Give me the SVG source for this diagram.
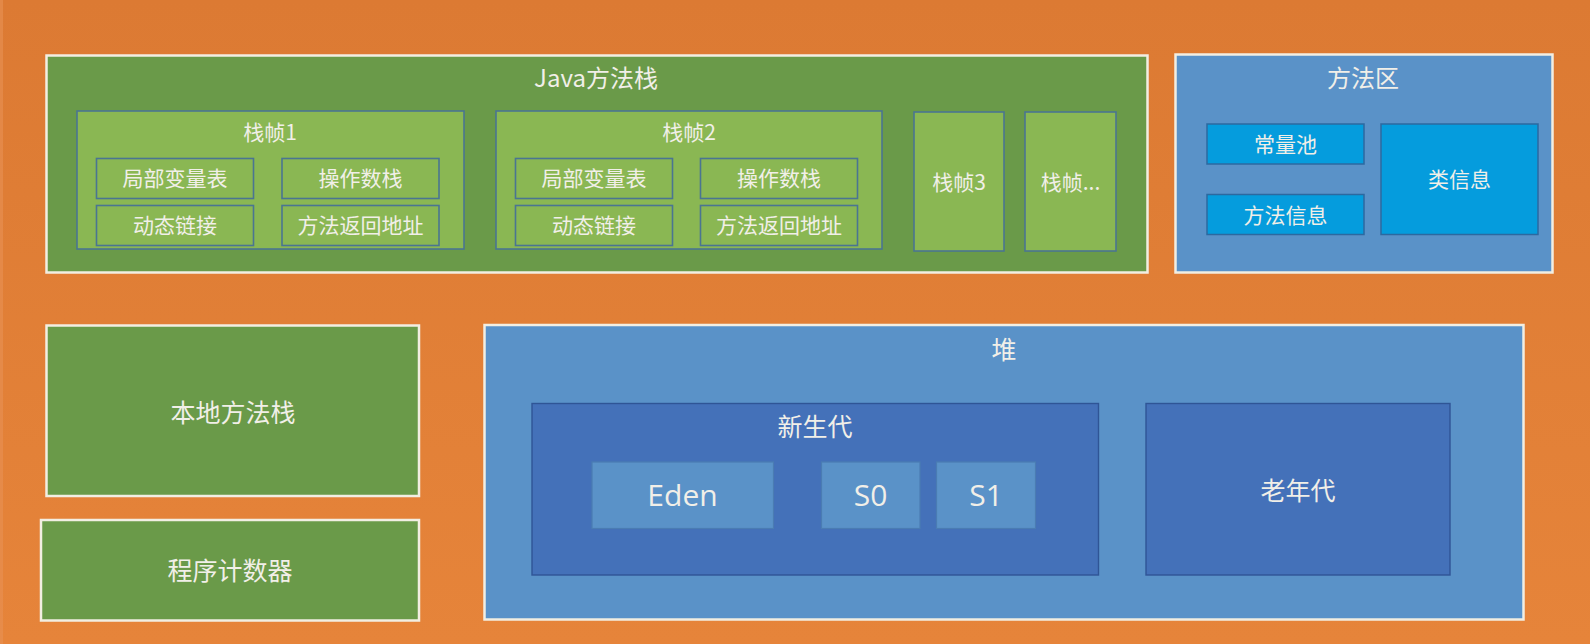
<svg xmlns="http://www.w3.org/2000/svg" width="1590" height="644" viewBox="0 0 1590 644">
  <defs>
    <linearGradient id="bg" x1="0" y1="0" x2="0" y2="1">
      <stop offset="0" stop-color="#DC7A33"/>
      <stop offset="1" stop-color="#E6843A"/>
    </linearGradient>
  </defs>
  <style>
    text { font-family: "Noto Sans CJK SC", "Open Sans", sans-serif; fill: #F1EFE8; text-anchor: middle; }
    .outer { stroke: #F2EEE2; stroke-width: 2.5; }
    .dkgreen { fill: #6A9A49; }
    .ltgreen { fill: #8AB753; stroke: #4A7592; stroke-width: 1.6; }
    .blue { fill: #5A92C8; }
    .gen { fill: #4471B9; stroke: #2F5596; stroke-width: 1.4; }
    .cell { fill: #5A92C8; stroke: #4A7CB3; stroke-width: 1.2; }
    .cyan { fill: #059CDD; stroke: #2C69A0; stroke-width: 1.5; }
    .t24 { font-size: 24px; }
    .t21 { font-size: 21px; }
    .t25 { font-size: 25px; }
    .t30 { font-size: 30px; font-family: "Open Sans", "Noto Sans CJK SC", sans-serif; }
  </style>
  <rect x="0" y="0" width="1590" height="644" fill="url(#bg)"/>
  <rect x="0" y="0" width="3" height="644" fill="#E89155" opacity="0.6"/>

  <g id="java-stack">
    <rect class="outer dkgreen" x="46.5" y="55.5" width="1101" height="217"/>
    <text class="t24" x="596" y="87">Java方法栈</text>
  </g>

  <g id="frame1">
    <rect class="ltgreen" x="77" y="111" width="387" height="138"/>
    <text class="t21" x="270" y="140">栈帧1</text>
  </g>
  <g id="frame1-locals">
    <rect class="ltgreen" x="96.5" y="158.5" width="157" height="40"/>
    <text class="t21" x="175" y="186">局部变量表</text>
  </g>
  <g id="frame1-operand">
    <rect class="ltgreen" x="282" y="158.5" width="157" height="40"/>
    <text class="t21" x="360.5" y="186">操作数栈</text>
  </g>
  <g id="frame1-dynlink">
    <rect class="ltgreen" x="96.5" y="205.5" width="157" height="40"/>
    <text class="t21" x="175" y="233">动态链接</text>
  </g>
  <g id="frame1-return">
    <rect class="ltgreen" x="282" y="205.5" width="157" height="40"/>
    <text class="t21" x="360.5" y="233">方法返回地址</text>
  </g>

  <g id="frame2">
    <rect class="ltgreen" x="496" y="111" width="386" height="138"/>
    <text class="t21" x="689" y="140">栈帧2</text>
  </g>
  <g id="frame2-locals">
    <rect class="ltgreen" x="515.5" y="158.5" width="157" height="40"/>
    <text class="t21" x="594" y="186">局部变量表</text>
  </g>
  <g id="frame2-operand">
    <rect class="ltgreen" x="700.5" y="158.5" width="157" height="40"/>
    <text class="t21" x="779" y="186">操作数栈</text>
  </g>
  <g id="frame2-dynlink">
    <rect class="ltgreen" x="515.5" y="205.5" width="157" height="40"/>
    <text class="t21" x="594" y="233">动态链接</text>
  </g>
  <g id="frame2-return">
    <rect class="ltgreen" x="700.5" y="205.5" width="157" height="40"/>
    <text class="t21" x="779" y="233">方法返回地址</text>
  </g>

  <g id="frame3">
    <rect class="ltgreen" x="914" y="112" width="90" height="139"/>
    <text class="t21" x="959" y="190">栈帧3</text>
  </g>
  <g id="frame-more">
    <rect class="ltgreen" x="1025" y="112" width="91" height="139"/>
    <text class="t21" x="1070.5" y="190">栈帧...</text>
  </g>

  <g id="method-area">
    <rect class="outer blue" x="1175.5" y="54.5" width="377" height="218"/>
    <text class="t24" x="1363" y="87">方法区</text>
  </g>
  <g id="constant-pool">
    <rect class="cyan" x="1207" y="124" width="157" height="40"/>
    <text class="t21" x="1285.5" y="152">常量池</text>
  </g>
  <g id="method-info">
    <rect class="cyan" x="1207" y="194.5" width="157" height="40"/>
    <text class="t21" x="1285.5" y="222.5">方法信息</text>
  </g>
  <g id="class-info">
    <rect class="cyan" x="1381" y="124" width="157" height="110.5"/>
    <text class="t21" x="1459.5" y="187">类信息</text>
  </g>

  <g id="native-stack">
    <rect class="outer dkgreen" x="46.5" y="325.5" width="372.5" height="170.5"/>
    <text class="t25" x="233" y="422">本地方法栈</text>
  </g>
  <g id="pc-register">
    <rect class="outer dkgreen" x="41" y="520" width="378" height="100.5"/>
    <text class="t25" x="230" y="580">程序计数器</text>
  </g>

  <g id="heap">
    <rect class="outer blue" x="484.5" y="325" width="1039" height="294.5"/>
    <text class="t25" x="1004" y="358.5">堆</text>
  </g>
  <g id="young-gen">
    <rect class="gen" x="532" y="403.5" width="566.5" height="171.5"/>
    <text class="t25" x="815" y="435.5">新生代</text>
  </g>
  <g id="eden">
    <rect class="cell" x="592" y="462" width="181.5" height="66.5"/>
    <text class="t30" x="682.5" y="506">Eden</text>
  </g>
  <g id="s0">
    <rect class="cell" x="821.5" y="462" width="98.5" height="66.5"/>
    <text class="t30" x="870.5" y="506">S0</text>
  </g>
  <g id="s1">
    <rect class="cell" x="936.5" y="462" width="99" height="66.5"/>
    <text class="t30" x="986" y="506">S1</text>
  </g>
  <g id="old-gen">
    <rect class="gen" x="1146" y="403.5" width="304" height="171.5"/>
    <text class="t25" x="1298" y="499.5">老年代</text>
  </g>

  <g id="connectors"></g>
</svg>
